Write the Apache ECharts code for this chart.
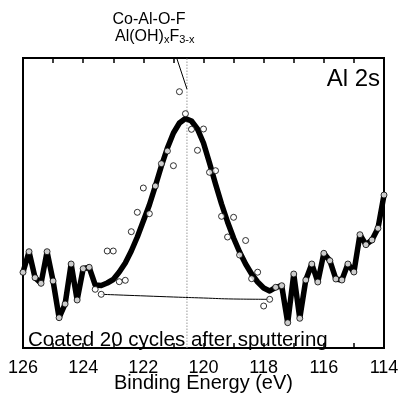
<!DOCTYPE html>
<html>
<head>
<meta charset="utf-8">
<script src="https://cdn.jsdelivr.net/npm/echarts@6/dist/echarts.min.js"></script>
<style>
  html, body { margin: 0; padding: 0; background: #fff; }
  #chart { width: 402px; height: 396px; }
</style>
</head>
<body>
<div id="chart"></div>
<script>
// Al 2s spectrum: binding energy (eV) and intensity (a.u.)
const energy = [
  126.0, 125.8, 125.6, 125.4, 125.2, 125.0, 124.8, 124.6, 124.4, 124.2,
  124.0, 123.8, 123.6, 123.4, 123.2, 123.0, 122.8, 122.6, 122.4, 122.2,
  122.0, 121.8, 121.6, 121.4, 121.2, 121.0, 120.8, 120.6, 120.4, 120.2,
  120.0, 119.8, 119.6, 119.4, 119.2, 119.0, 118.8, 118.6, 118.4, 118.2,
  118.0, 117.8, 117.6, 117.4, 117.2, 117.0, 116.8, 116.6, 116.4, 116.2,
  116.0, 115.8, 115.6, 115.4, 115.2, 115.0, 114.8, 114.6, 114.4, 114.2,
  114.0
];
const counts = [
  75.7, 96.3, 70.3, 64.7, 96.3, 67.0, 30.3, 44.0, 84.0, 48.0,
  79.3, 80.7, 58.7, 53.7, 97.0, 97.0, 66.3, 67.7, 116.3, 135.7,
  160.0, 134.3, 162.0, 184.3, 197.0, 182.3, 256.3, 234.3, 218.7, 197.7,
  219.0, 175.7, 177.3, 131.7, 111.0, 130.7, 93.0, 107.5, 69.3, 75.8,
  42.0, 48.7, 60.7, 62.3, 25.3, 74.0, 29.7, 68.0, 84.0, 66.0,
  94.7, 87.3, 69.0, 68.0, 84.0, 76.0, 113.3, 103.3, 108.0, 119.7,
  153.0
];

// fitted envelope (peak + background) over the fit window
const fitEnergy = [
  123.6, 123.4, 123.2, 123.0, 122.8, 122.6, 122.4, 122.2, 122.0, 121.8,
  121.6, 121.4, 121.2, 121.0, 120.8, 120.6, 120.4, 120.2, 120.0, 119.8,
  119.6, 119.4, 119.2, 119.0, 118.8, 118.6, 118.4, 118.2, 118.0, 117.8
];
const fitCounts = [
  63.0, 62.5, 65.0, 68.5, 76.0, 85.0, 97.0, 111.0, 127.0, 143.0,
  162.0, 182.0, 200.0, 215.0, 225.0, 229.5, 227.0, 219.0, 205.0, 185.0,
  164.0, 144.0, 126.0, 110.0, 96.0, 84.0, 74.0, 66.0, 60.0, 57.0
];
// raw data used outside the fit window (index ranges into energy/counts)
const leftRawEnd = 11;
const rightRawStart = 42;

// background under the peak
const bgEnergy = [123.4, 121.0, 120.0, 119.0, 117.8];
const bgCounts = [53.7, 51.0, 50.0, 49.0, 48.7];

// peak position marker and leader
const peakEnergy = 120.55;
const leaderEnergy = [120.88, 120.55];
const leaderCounts = [289, 259];

const xTicks = [126, 124, 122, 120, 118, 116, 114];

const FONT = '"Liberation Sans", Arial, Helvetica, sans-serif';

const pairs = (xs, ys) => xs.map((x, i) => [x, ys[i]]);
const envelope = []
  .concat(pairs(energy.slice(0, leftRawEnd + 1), counts.slice(0, leftRawEnd + 1)))
  .concat(pairs(fitEnergy, fitCounts))
  .concat(pairs(energy.slice(rightRawStart), counts.slice(rightRawStart)));

const chart = echarts.init(document.getElementById('chart'), null, { renderer: 'canvas' });

const xBase = {
  type: 'value',
  min: 114,
  max: 126,
  interval: 1,
  inverse: true,
  axisLine: { show: false },
  axisTick: { show: true, inside: true, length: 5, lineStyle: { color: '#000', width: 1.5 } },
  splitLine: { show: false }
};

chart.setOption({
  animation: false,
  backgroundColor: '#fff',
  grid: {
    left: 23, right: 18, top: 58, bottom: 48,
    outerBoundsMode: 'none',
    containLabel: false,
    show: true, borderColor: '#000', borderWidth: 2, backgroundColor: 'transparent'
  },
  xAxis: [
    Object.assign({}, xBase, {
      position: 'bottom',
      name: 'Binding Energy (eV)',
      nameLocation: 'middle',
      nameGap: 25,
      nameMoveOverlap: false,
      nameTextStyle: { fontFamily: FONT, fontSize: 20, color: '#000', verticalAlign: 'top' },
      axisLabel: {
        show: true, margin: 11, fontFamily: FONT, fontSize: 18, color: '#000',
        showMinLabel: true, showMaxLabel: true,
        formatter: v => (xTicks.indexOf(v) >= 0 ? String(v) : '')
      }
    }),
    Object.assign({}, xBase, {
      position: 'top',
      axisLabel: { show: false }
    })
  ],
  yAxis: {
    type: 'value', min: 0, max: 290,
    axisLine: { show: false }, axisTick: { show: false },
    axisLabel: { show: false }, splitLine: { show: false }
  },
  series: [
    {
      name: 'peak position', type: 'line', symbol: 'none', z: 1,
      data: [[peakEnergy, 0], [peakEnergy, 290]],
      lineStyle: { color: '#999', width: 1, type: [1.5, 1.5] }
    },
    {
      name: 'background', type: 'line', symbol: 'none', smooth: true, z: 2,
      data: pairs(bgEnergy, bgCounts),
      lineStyle: { color: '#000', width: 1 }
    },
    {
      name: 'envelope', type: 'line', symbol: 'none', z: 3,
      data: envelope,
      lineStyle: { color: '#000', width: 5.5, join: 'round', cap: 'round' }
    },
    {
      name: 'leader', type: 'line', symbol: 'none', z: 3,
      data: pairs(leaderEnergy, leaderCounts),
      lineStyle: { color: '#000', width: 1 }
    },
    {
      name: 'data', type: 'scatter', z: 4,
      data: pairs(energy, counts),
      symbol: 'circle', symbolSize: 6,
      itemStyle: { color: '#fff', borderColor: '#000', borderWidth: 1 }
    }
  ],
  graphic: [
    {
      type: 'text', z: 10, x: 149, y: 28,
      style: {
        text: 'Co-Al-O-F', fontFamily: FONT, fontSize: 16, fill: '#000',
        textAlign: 'center', textVerticalAlign: 'bottom'
      }
    },
    {
      type: 'text', z: 10, x: 115, y: 45,
      style: {
        text: 'Al(OH){s|x}F{s|3-x}', fontFamily: FONT, fontSize: 16, fill: '#000',
        textAlign: 'left', textVerticalAlign: 'bottom',
        rich: { s: { fontFamily: FONT, fontSize: 11, verticalAlign: 'bottom', lineHeight: 11, fill: '#000' } }
      }
    },
    {
      type: 'text', z: 10, x: 380, y: 91,
      style: {
        text: 'Al 2s', fontFamily: FONT, fontSize: 24, fill: '#000',
        textAlign: 'right', textVerticalAlign: 'bottom'
      }
    },
    {
      type: 'text', z: 10, x: 28, y: 351,
      style: {
        text: 'Coated 20 cycles after sputtering', fontFamily: FONT, fontSize: 20.5, fill: '#000',
        textAlign: 'left', textVerticalAlign: 'bottom'
      }
    }
  ]
});
</script>
</body>
</html>
